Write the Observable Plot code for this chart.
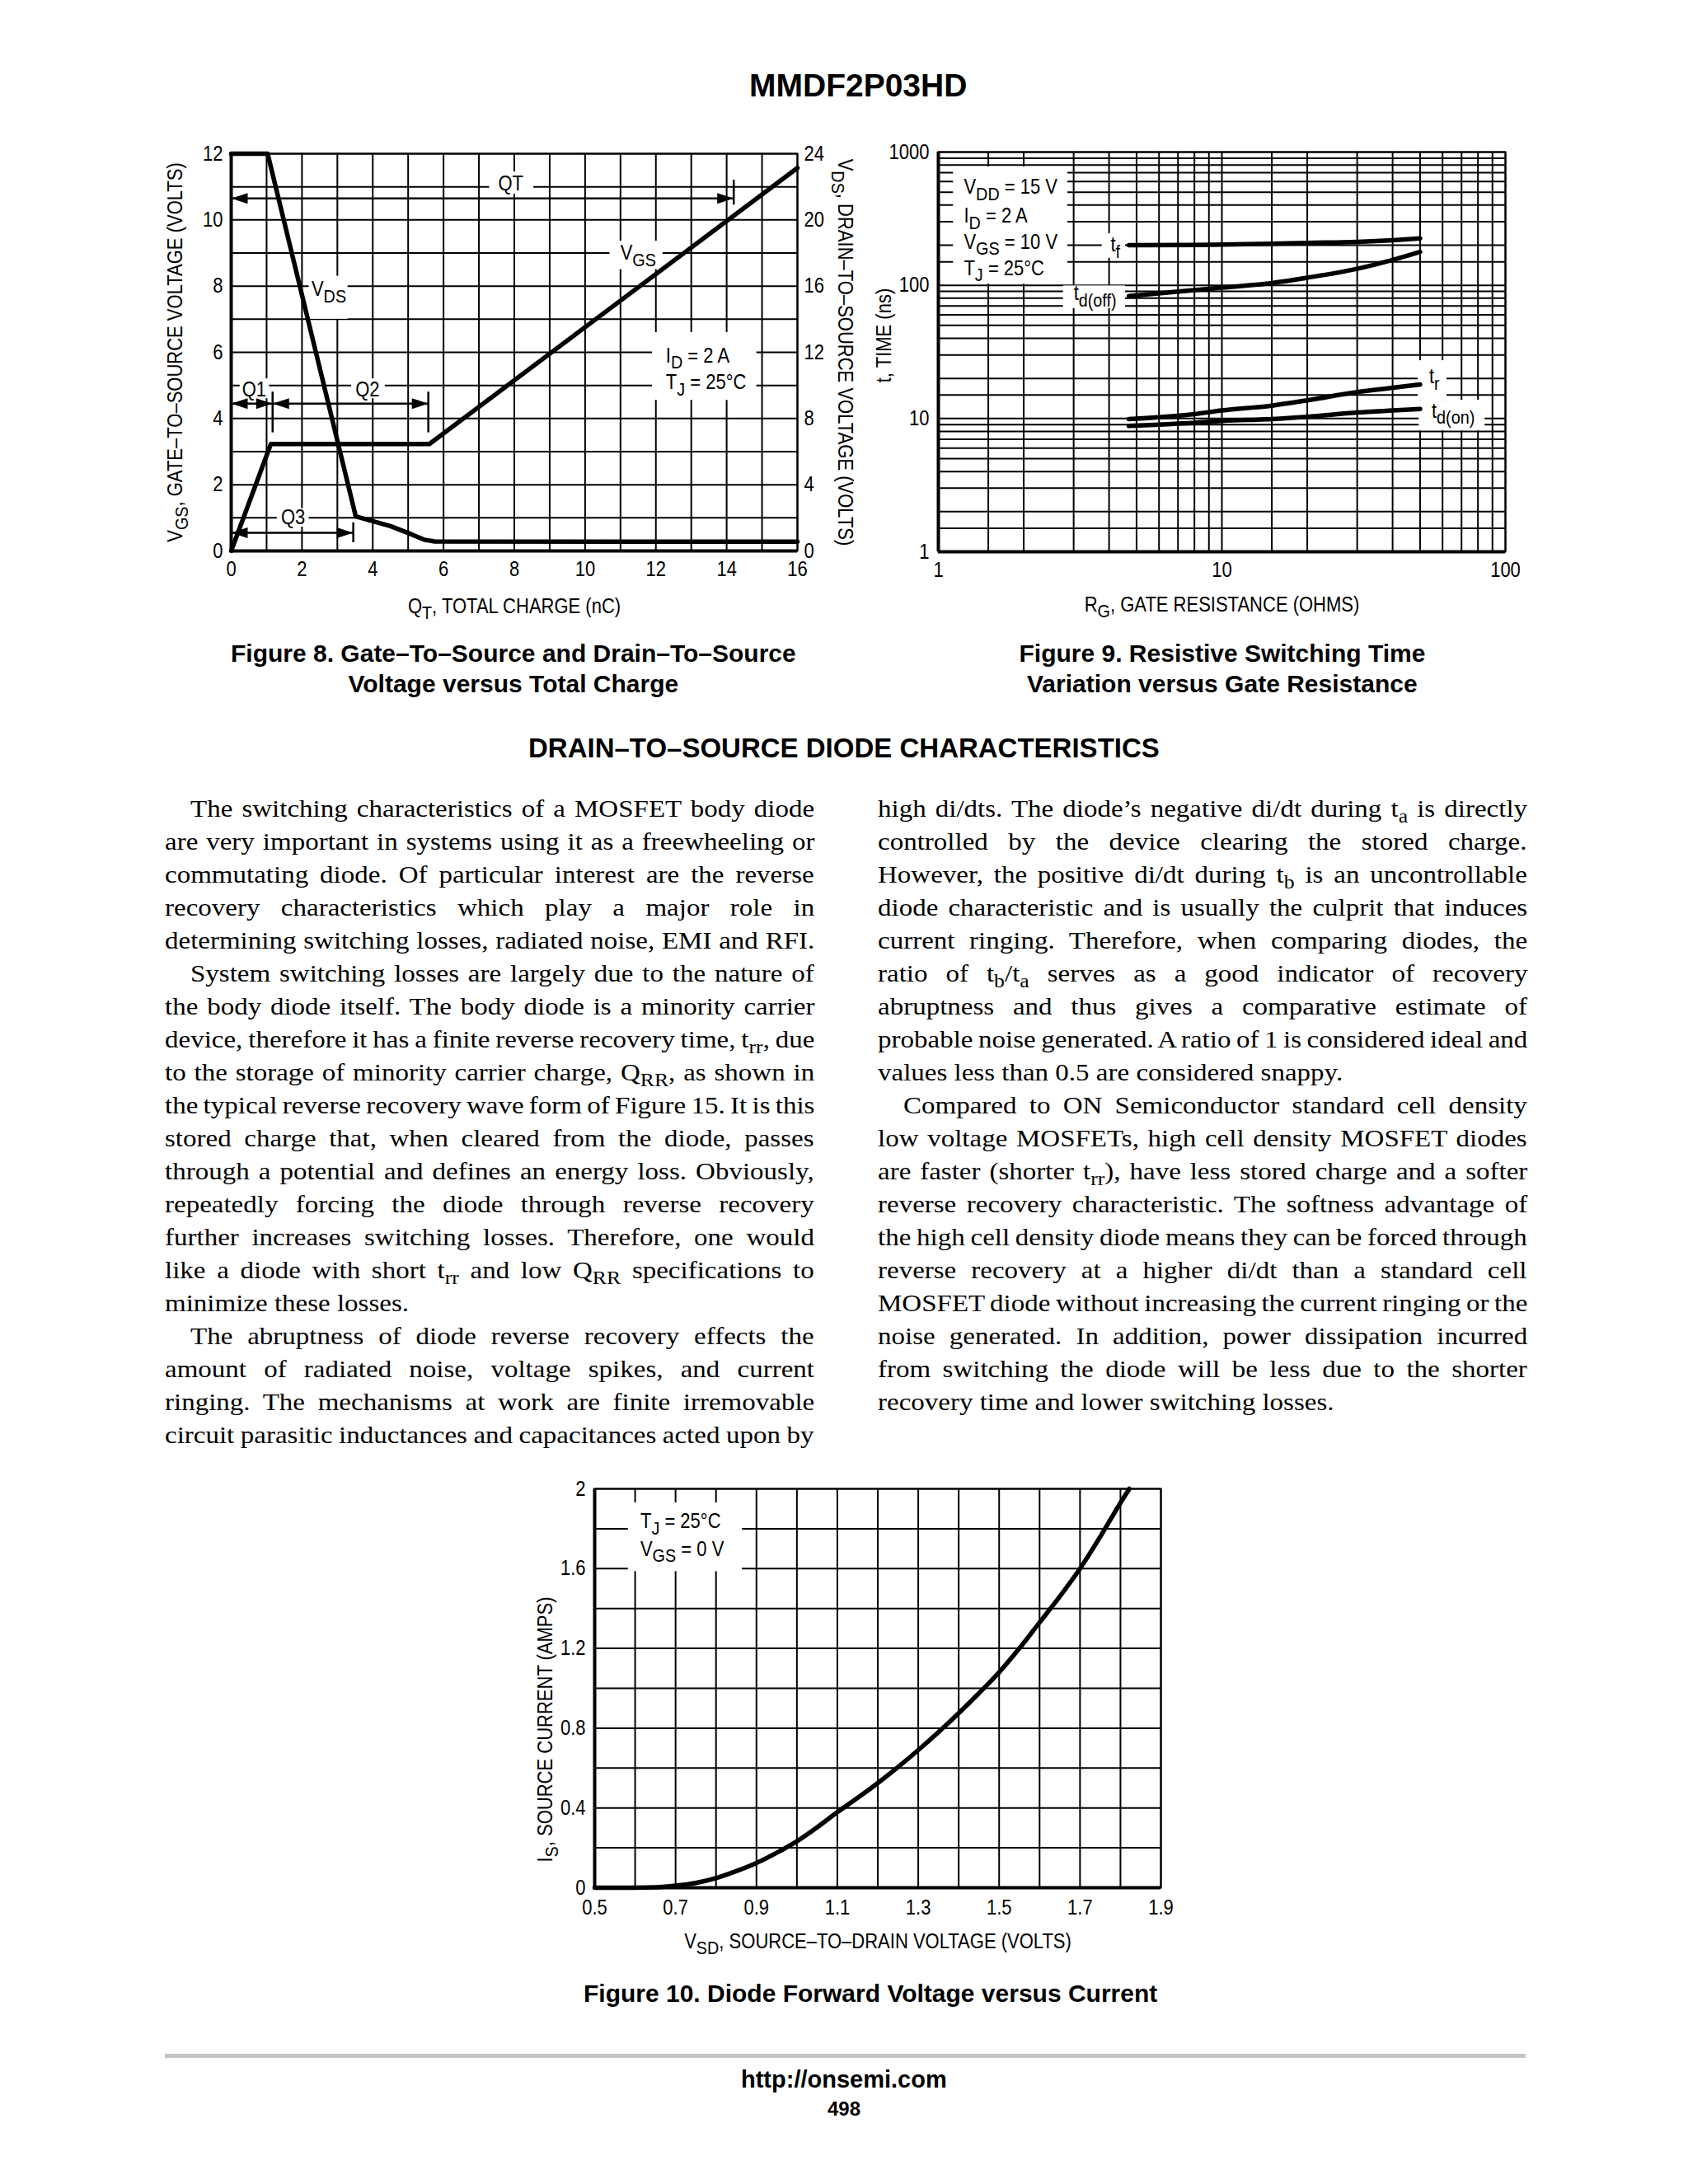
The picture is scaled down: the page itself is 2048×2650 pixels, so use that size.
<!DOCTYPE html>
<html><head><meta charset="utf-8">
<script src="https://cdn.jsdelivr.net/npm/d3@7"></script>
<script src="https://cdn.jsdelivr.net/npm/@observablehq/plot@0.6"></script>
<style>
html,body{margin:0;padding:0;background:#fff;}
#page{position:relative;width:2048px;height:2650px;background:#fff;overflow:hidden;color:#000;}
.abs{position:absolute;white-space:nowrap;}
.sans{font-family:'Liberation Sans',Arial,Helvetica,sans-serif;}
.serif{font-family:'Liberation Serif','Times New Roman',serif;}
.bold{font-weight:bold;}
sub{font-size:78%;vertical-align:baseline;position:relative;top:0.28em;line-height:0;}
</style></head>
<body><div id="page"></div>
<script>
const SANS = "'Liberation Sans',Arial,Helvetica,sans-serif";
const page = document.getElementById("page");

// ================= Figure 8 data =================
const fig8GridQ = [0,1,2,3,4,5,6,7,8,9,10,11,12,13,14,15,16];
const fig8GridV = [0,1,2,3,4,5,6,7,8,9,10,11,12];
const fig8XTicks = [0,2,4,6,8,10,12,14,16];
const fig8LeftTicks = [0,2,4,6,8,10,12];
const fig8RightTicks = [0,4,8,12,16,20,24];
const vgsCharge = [0, 1.12, 5.6, 16];
const vgsVolts  = [0, 3.23, 3.23, 11.57];
const vdsCharge = [0, 1.03, 3.52, 4.5, 5.1, 5.45, 5.75, 16];
const vdsVolts  = [24, 24, 2.09, 1.5, 1.0, 0.68, 0.57, 0.56];
const fig8Dims = [
  {x1: 0, x2: 14.2, y: 10.65},
  {x1: 0, x2: 1.17, y: 4.45},
  {x1: 1.17, x2: 5.57, y: 4.45},
  {x1: 0, x2: 3.45, y: 0.55}
];
const fig8DimTicks = [
  {x: 14.2, y1: 10.45, y2: 11.2},
  {x: 1.17, y1: 3.57, y2: 4.8},
  {x: 5.57, y1: 3.57, y2: 4.8},
  {x: 3.45, y1: 0.25, y2: 0.85}
];
const fig8Boxes = [
  {x1: 7.3, x2: 8.55, y1: 10.78, y2: 11.45},
  {x1: 0.25, x2: 1.08, y1: 4.6, y2: 5.2},
  {x1: 3.4, x2: 4.35, y1: 4.6, y2: 5.2},
  {x1: 1.3, x2: 2.2, y1: 0.72, y2: 1.28},
  {x1: 2.2, x2: 3.3, y1: 7.0, y2: 8.3},
  {x1: 10.7, x2: 12.2, y1: 8.5, y2: 9.36},
  {x1: 11.9, x2: 14.85, y1: 4.55, y2: 6.6}
];
const fig8CenterLabels = [
  {x: 7.9, y: 11.1, text: "QT"},
  {x: 0.65, y: 4.87, text: "Q1"},
  {x: 3.85, y: 4.87, text: "Q2"},
  {x: 1.75, y: 1.0, text: "Q3"},
  {x: 2.76, y: 7.9, text: "V_{DS}"},
  {x: 11.5, y: 9.0, text: "V_{GS}"}
];
const fig8StartLabels = [
  {x: 12.28, y: 5.9, text: "I_{D} = 2 A"},
  {x: 12.28, y: 5.09, text: "T_{J} = 25°C"}
];

// ================= Figure 9 data =================
const fig9GridR = [1,1.5,2,3,4,5,6,7,8,9,10,15,20,30,40,50,60,70,80,90,100];
const fig9GridT = [1,1.5,2,3,4,5,6,7,8,9,10,15,20,30,40,50,60,70,80,90,100,150,200,300,400,500,600,700,800,900,1000];
const fig9XTicks = [1,10,100];
const fig9YTicks = [1,10,100,1000];
const fig9Rg   = [4.7, 8, 10, 15, 20, 30, 40, 50];
const fig9Tf   = [200, 201, 202, 205, 208, 212, 218, 225];
const fig9Tdoff= [83, 92, 96, 104, 114, 133, 155, 178];
const fig9Tr   = [9.9, 10.8, 11.5, 12.5, 13.7, 15.8, 17.0, 18.0];
const fig9Tdon = [8.8, 9.3, 9.6, 9.9, 10.3, 11.1, 11.5, 11.8];
const fig9Boxes = [
  {x1: 1.13, x2: 2.86, y1: 102, y2: 775},
  {x1: 3.78, x2: 4.57, y1: 159, y2: 244},
  {x1: 2.76, x2: 4.57, y1: 67, y2: 99},
  {x1: 49.2, x2: 62.2, y1: 13.7, y2: 27.2},
  {x1: 49.6, x2: 84.7, y1: 8.1, y2: 13.7}
];
const fig9Labels = [
  {x: 1.23, y: 543, text: "V_{DD} = 15 V"},
  {x: 1.23, y: 330, text: "I_{D} = 2 A"},
  {x: 1.23, y: 211, text: "V_{GS} = 10 V"},
  {x: 1.23, y: 134, text: "T_{J} = 25°C"},
  {x: 4.05, y: 201, text: "t_{f}"},
  {x: 3.0, y: 87, text: "t_{d(off)}"},
  {x: 53.8, y: 20.6, text: "t_{r}"},
  {x: 54.9, y: 11.4, text: "t_{d(on)}"}
];

// ================= Figure 10 data =================
const fig10GridV = [0.5,0.6,0.7,0.8,0.9,1.0,1.1,1.2,1.3,1.4,1.5,1.6,1.7,1.8,1.9];
const fig10GridI = [0,0.2,0.4,0.6,0.8,1.0,1.2,1.4,1.6,1.8,2.0];
const fig10XTicks = [0.5,0.7,0.9,1.1,1.3,1.5,1.7,1.9];
const fig10YTicks = [0,0.4,0.8,1.2,1.6,2];
const fig10Vsd = [0.5,0.6,0.65,0.7,0.75,0.8,0.85,0.9,0.95,1.0,1.05,1.1,1.15,1.2,1.25,1.3,1.35,1.4,1.45,1.5,1.55,1.6,1.65,1.7,1.75,1.8,1.822];
const fig10Is  = [0,0,0.002,0.01,0.024,0.048,0.083,0.124,0.175,0.233,0.303,0.379,0.45,0.525,0.605,0.69,0.78,0.875,0.975,1.08,1.2,1.33,1.46,1.6,1.76,1.93,2.0];
const fig10Boxes = [{x1: 0.583, x2: 0.865, y1: 1.585, y2: 1.93}];
const fig10Labels = [
  {x: 0.613, y: 1.836, text: "T_{J} = 25°C"},
  {x: 0.613, y: 1.698, text: "V_{GS} = 0 V"}
];

// ================= Text =================
const leftColumn = [
  {t: "The switching characteristics of a MOSFET body diode", indent: true},
  {t: "are very important in systems using it as a freewheeling or"},
  {t: "commutating diode. Of particular interest are the reverse"},
  {t: "recovery characteristics which play a major role in"},
  {t: "determining switching losses, radiated noise, EMI and RFI."},
  {t: "System switching losses are largely due to the nature of", indent: true},
  {t: "the body diode itself. The body diode is a minority carrier"},
  {t: "device, therefore it has a finite reverse recovery time, t_{rr}, due"},
  {t: "to the storage of minority carrier charge, Q_{RR}, as shown in"},
  {t: "the typical reverse recovery wave form of Figure 15. It is this"},
  {t: "stored charge that, when cleared from the diode, passes"},
  {t: "through a potential and defines an energy loss. Obviously,"},
  {t: "repeatedly forcing the diode through reverse recovery"},
  {t: "further increases switching losses. Therefore, one would"},
  {t: "like a diode with short t_{rr} and low Q_{RR} specifications to"},
  {t: "minimize these losses.", last: true},
  {t: "The abruptness of diode reverse recovery effects the", indent: true},
  {t: "amount of radiated noise, voltage spikes, and current"},
  {t: "ringing. The mechanisms at work are finite irremovable"},
  {t: "circuit parasitic inductances and capacitances acted upon by"}
];
const rightColumn = [
  {t: "high di/dts. The diode’s negative di/dt during t_{a} is directly"},
  {t: "controlled by the device clearing the stored charge."},
  {t: "However, the positive di/dt during t_{b} is an uncontrollable"},
  {t: "diode characteristic and is usually the culprit that induces"},
  {t: "current ringing. Therefore, when comparing diodes, the"},
  {t: "ratio of t_{b}/t_{a} serves as a good indicator of recovery"},
  {t: "abruptness and thus gives a comparative estimate of"},
  {t: "probable noise generated. A ratio of 1 is considered ideal and"},
  {t: "values less than 0.5 are considered snappy.", last: true},
  {t: "Compared to ON Semiconductor standard cell density", indent: true},
  {t: "low voltage MOSFETs, high cell density MOSFET diodes"},
  {t: "are faster (shorter t_{rr}), have less stored charge and a softer"},
  {t: "reverse recovery characteristic. The softness advantage of"},
  {t: "the high cell density diode means they can be forced through"},
  {t: "reverse recovery at a higher di/dt than a standard cell"},
  {t: "MOSFET diode without increasing the current ringing or the"},
  {t: "noise generated. In addition, power dissipation incurred"},
  {t: "from switching the diode will be less due to the shorter"},
  {t: "recovery time and lower switching losses.", last: true}
];

// ================= helpers =================
function toHTML(s) { return s.replace(/_\{([^}]*)\}/g, "<sub>$1</sub>"); }
function div(html, cls, css) {
  const d = document.createElement("div");
  d.className = "abs " + cls;
  d.innerHTML = html;
  Object.assign(d.style, css);
  page.appendChild(d);
  return d;
}
function centered(html, cls, cx, cy, fs) {
  const lh = fs;
  const top = cy - ((lh - 1.149 * fs) / 2 + 0.905 * fs - 0.358 * fs);
  const d = div(html, cls, {fontSize: fs + "px", lineHeight: lh + "px", top: top + "px", left: "0px"});
  d.style.left = (cx - d.offsetWidth / 2) + "px";
  return d;
}
const NS = "http://www.w3.org/2000/svg";
function richify(svg) {
  const leaves = [...svg.querySelectorAll("text, tspan")].filter(el => el.children.length === 0 && el.textContent.includes("_{"));
  for (const el of leaves) {
    const s = el.textContent;
    el.textContent = "";
    const parts = s.split(/(_\{[^}]*\})/).filter(p => p.length);
    let shifted = false;
    for (const p of parts) {
      const m = p.match(/^_\{([^}]*)\}$/);
      const ts = document.createElementNS(NS, "tspan");
      if (m) {
        ts.setAttribute("font-size", "90%");
        ts.setAttribute("dy", "0.34em");
        ts.textContent = m[1];
        shifted = true;
      } else {
        if (shifted) ts.setAttribute("dy", "-0.306em");
        ts.textContent = p;
        shifted = false;
      }
      el.appendChild(ts);
    }
  }
}
// narrow the sans glyphs (datasheet Helvetica Narrow look) without moving anchors
const CONDENSE = 0.88;
function condense(svg) {
  for (const el of svg.querySelectorAll("text")) {
    let L = 0;
    try { L = el.getComputedTextLength(); } catch (e) { L = 0; }
    if (L > 0) {
      el.setAttribute("textLength", (L * CONDENSE).toFixed(2));
      el.setAttribute("lengthAdjust", "spacingAndGlyphs");
    }
  }
}
function place(svg, left, top) {
  svg.style.position = "absolute";
  svg.style.left = left + "px";
  svg.style.top = top + "px";
  svg.style.maxWidth = "none";
  page.appendChild(svg);
  richify(svg);
  condense(svg);
}
const arrowHead = {draw(ctx) { ctx.moveTo(0, 0); ctx.lineTo(-20, -6.5); ctx.lineTo(-20, 6.5); ctx.closePath(); }};
const GRID = {stroke: "#000", strokeOpacity: 1, strokeWidth: 2};
const FSZ = 25;
const STYLE = {fontFamily: SANS, fontSize: FSZ + "px", color: "#000", background: "none", overflow: "visible"};

// ================= Figure 8 =================
const vgs = vgsCharge.map((q, i) => ({q, v: vgsVolts[i]}));
const vds = vdsCharge.map((q, i) => ({q, v: vdsVolts[i]}));
const fig8Heads = fig8Dims.flatMap(d => [{x: d.x1, y: d.y, rot: 180}, {x: d.x2, y: d.y, rot: 0}]);
const fig8 = Plot.plot({
  width: 920, height: 620,
  marginLeft: 130, marginRight: 103, marginTop: 36, marginBottom: 102,
  style: STYLE,
  x: {domain: [0, 16]},
  y: {domain: [0, 12]},
  marks: [
    Plot.gridX(fig8GridQ, GRID),
    Plot.gridY(fig8GridV, GRID),
    Plot.rect(fig8Boxes, {x1: "x1", x2: "x2", y1: "y1", y2: "y2", fill: "white"}),
    Plot.frame({stroke: "#000", strokeWidth: 2}),
    Plot.ruleX([0], {strokeWidth: 4}),
    Plot.ruleY([0], {strokeWidth: 4}),
    Plot.line(vgs, {x: "q", y: "v", strokeWidth: 5.5}),
    Plot.line(vds, {x: "q", y: d => d.v / 2, strokeWidth: 5.5}),
    Plot.ruleY(fig8Dims, {x1: "x1", x2: "x2", y: "y", strokeWidth: 2.5}),
    Plot.ruleX(fig8DimTicks, {x: "x", y1: "y1", y2: "y2", strokeWidth: 2.5}),
    Plot.dot(fig8Heads, {x: "x", y: "y", rotate: "rot", symbol: arrowHead, r: 4, fill: "#000", stroke: "none"}),
    Plot.text(fig8CenterLabels, {x: "x", y: "y", text: "text", textAnchor: "middle", fontSize: FSZ}),
    Plot.text(fig8StartLabels, {x: "x", y: "y", text: "text", textAnchor: "start", fontSize: FSZ}),
    Plot.axisX(fig8XTicks, {tickSize: 0, tickPadding: 13, fontSize: FSZ, label: null}),
    Plot.axisY(fig8LeftTicks, {anchor: "left", tickSize: 0, tickPadding: 10, fontSize: FSZ, label: null}),
    Plot.axisY(fig8RightTicks.map(v => v / 2), {anchor: "right", tickFormat: d => String(d * 2), tickSize: 0, tickPadding: 8, fontSize: FSZ, label: null}),
    Plot.text(["V_{GS}, GATE–TO–SOURCE VOLTAGE (VOLTS)"], {text: d => d, frameAnchor: "left", textAnchor: "middle", lineAnchor: "middle", rotate: -90, dx: -68, fontSize: FSZ}),
    Plot.text(["V_{DS}, DRAIN–TO–SOURCE VOLTAGE (VOLTS)"], {text: d => d, frameAnchor: "right", textAnchor: "middle", lineAnchor: "middle", rotate: 90, dx: 57, fontSize: FSZ}),
    Plot.text(["Q_{T}, TOTAL CHARGE (nC)"], {text: d => d, frameAnchor: "bottom", textAnchor: "middle", lineAnchor: "middle", dy: 67, fontSize: FSZ})
  ]
});
place(fig8, 150, 150);

// ================= Figure 9 =================
const mk = arr => fig9Rg.map((r, i) => ({r, t: arr[i]}));
const fig9 = Plot.plot({
  width: 880, height: 620,
  marginLeft: 138, marginRight: 54, marginTop: 34, marginBottom: 101,
  style: STYLE,
  x: {type: "log", domain: [1, 100]},
  y: {type: "log", domain: [1, 1000]},
  marks: [
    Plot.gridX(fig9GridR, GRID),
    Plot.gridY(fig9GridT, GRID),
    Plot.rect(fig9Boxes, {x1: "x1", x2: "x2", y1: "y1", y2: "y2", fill: "white"}),
    Plot.frame({stroke: "#000", strokeWidth: 2}),
    Plot.ruleX([1], {strokeWidth: 4}),
    Plot.ruleY([1], {strokeWidth: 4}),
    ...[fig9Tf, fig9Tdoff, fig9Tr, fig9Tdon].map(s => Plot.line(mk(s), {x: "r", y: "t", strokeWidth: 5.5, curve: "monotone-x", strokeLinecap: "round"})),
    Plot.text(fig9Labels, {x: "x", y: "y", text: "text", textAnchor: "start", fontSize: FSZ}),
    Plot.axisX(fig9XTicks, {tickSize: 0, tickPadding: 13, fontSize: FSZ, label: null, tickFormat: d => String(d)}),
    Plot.axisY(fig9YTicks, {anchor: "left", tickSize: 0, tickPadding: 11, fontSize: FSZ, label: null, tickFormat: d => String(d)}),
    Plot.text(["t, TIME (ns)"], {text: d => d, frameAnchor: "left", textAnchor: "middle", lineAnchor: "middle", rotate: -90, dx: -66, dy: -20, fontSize: FSZ}),
    Plot.text(["R_{G}, GATE RESISTANCE (OHMS)"], {text: d => d, frameAnchor: "bottom", textAnchor: "middle", lineAnchor: "middle", dy: 64, fontSize: FSZ})
  ]
});
place(fig9, 1000, 150);

// ================= Figure 10 =================
const diode = fig10Vsd.map((v, i) => ({v, i: fig10Is[i]}));
const fig10 = Plot.plot({
  width: 880, height: 620,
  marginLeft: 141, marginRight: 52, marginTop: 36, marginBottom: 100,
  style: STYLE,
  x: {domain: [0.5, 1.9]},
  y: {domain: [0, 2]},
  marks: [
    Plot.gridX(fig10GridV, GRID),
    Plot.gridY(fig10GridI, GRID),
    Plot.rect(fig10Boxes, {x1: "x1", x2: "x2", y1: "y1", y2: "y2", fill: "white"}),
    Plot.frame({stroke: "#000", strokeWidth: 2}),
    Plot.ruleX([0.5], {strokeWidth: 4}),
    Plot.ruleY([0], {strokeWidth: 4}),
    Plot.line(diode, {x: "v", y: "i", strokeWidth: 5.5, curve: "monotone-x"}),
    Plot.text(fig10Labels, {x: "x", y: "y", text: "text", textAnchor: "start", fontSize: FSZ}),
    Plot.axisX(fig10XTicks, {tickSize: 0, tickPadding: 15, fontSize: FSZ, label: null, tickFormat: d => String(d)}),
    Plot.axisY(fig10YTicks, {anchor: "left", tickSize: 0, tickPadding: 11, fontSize: FSZ, label: null, tickFormat: d => String(d)}),
    Plot.text(["I_{S}, SOURCE CURRENT (AMPS)"], {text: d => d, frameAnchor: "left", textAnchor: "middle", lineAnchor: "middle", rotate: -90, dx: -60, dy: 50, fontSize: FSZ}),
    Plot.text(["V_{SD}, SOURCE–TO–DRAIN VOLTAGE (VOLTS)"], {text: d => d, frameAnchor: "bottom", textAnchor: "middle", lineAnchor: "middle", dy: 65, fontSize: FSZ})
  ]
});
place(fig10, 580, 1770);

// ================= page text =================
centered("MMDF2P03HD", "sans bold", 1041, 102, 39);
centered("Figure 8. Gate–To–Source and Drain–To–Source", "sans bold", 623, 792, 30);
centered("Voltage versus Total Charge", "sans bold", 623, 829, 30);
centered("Figure 9. Resistive Switching Time", "sans bold", 1483, 792, 30);
centered("Variation versus Gate Resistance", "sans bold", 1483, 829, 30);
centered("DRAIN–TO–SOURCE DIODE CHARACTERISTICS", "sans bold", 1024, 907, 33);
centered("Figure 10. Diode Forward Voltage versus Current", "sans bold", 1056, 2418, 30);
centered("http://onsemi.com", "sans bold", 1024, 2523, 29);
centered("498", "sans bold", 1024, 2558, 24);
div("", "", {left: "200px", top: "2492px", width: "1651px", height: "5px", background: "#c4c4c4"});

const INDENT = 31, LINE = 40, BODY_TOP = 961, FS = 30, COLW = 788, SX = 1.1;
function addColumn(lines, x0) {
  lines.forEach((ln, k) => {
    const ind = ln.indent ? INDENT : 0;
    const d = div(toHTML(ln.t), "serif", {left: (x0 + ind) + "px", top: (BODY_TOP + k * LINE) + "px", fontSize: FS + "px", lineHeight: LINE + "px", transformOrigin: "0 0", transform: "scaleX(" + SX + ")"});
    if (!ln.last) {
      const w = d.offsetWidth;
      const n = (d.textContent.match(/ /g) || []).length;
      if (n) d.style.wordSpacing = (((COLW - ind) / SX - w) / n) + "px";
    }
  });
}
addColumn(leftColumn, 200);
addColumn(rightColumn, 1065);
</script>
</body></html>
